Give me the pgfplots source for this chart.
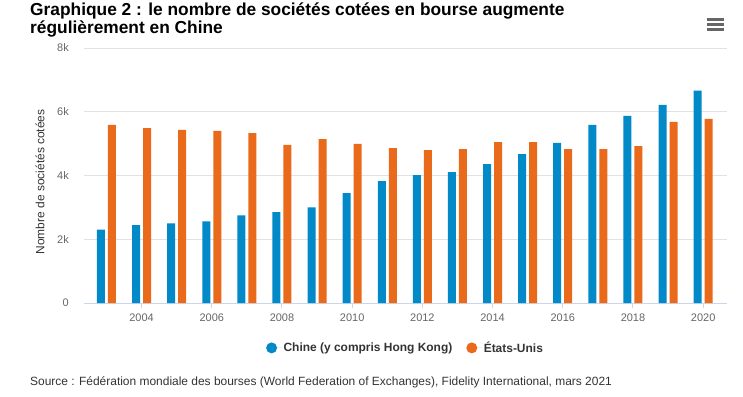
\documentclass[border=0pt]{standalone}
\usepackage{pgfplots}
\pgfplotsset{compat=1.18}
\usepackage{fontspec}
\setmainfont{Liberation Sans}
\definecolor{cblue}{RGB}{2,137,200}
\definecolor{corange}{RGB}{233,106,26}
\definecolor{gridc}{RGB}{226,226,226}
\definecolor{axc}{RGB}{204,214,235}
\definecolor{tickc}{RGB}{102,102,102}
\definecolor{txtc}{RGB}{51,51,51}
\pgfplotstableread{
year china us
2003 2300 5590
2004 2440 5490
2005 2500 5430
2006 2560 5400
2007 2750 5330
2008 2850 4960
2009 3000 5145
2010 3445 4990
2011 3820 4860
2012 4010 4800
2013 4105 4830
2014 4360 5050
2015 4670 5050
2016 5020 4830
2017 5590 4830
2018 5870 4925
2019 6215 5680
2020 6660 5775
}\datatable
\begin{document}
\begin{tikzpicture}
\path (0bp,0bp) rectangle (743bp,-397bp);
\node[anchor=north west, inner sep=0pt, align=left, font=\fontsize{17.4}{18}\selectfont\bfseries, text=black] at (30bp,-3bp) {Graphique 2 : le nombre de sociétés cotées en bourse augmente\\régulièrement en Chine};
\foreach \yy in {19.5,24.5,29.5} {\draw[tickc, line width=2.5bp] (707bp,-\yy bp) -- (724bp,-\yy bp);}
\begin{axis}[
  at={(84bp,-303bp)}, anchor=south west,
  scale only axis, width=643bp, height=255bp,
  xmin=2002.36, xmax=2020.68, ymin=0, ymax=8000,
  ybar, bar width=8bp,
  axis x line*=bottom, axis y line*=left,
  y axis line style={draw=none},
  x axis line style={draw=axc, line width=1bp},
  ymajorgrids, grid style={gridc, line width=0.8bp},
  ytick={0,2000,4000,6000,8000},
  yticklabels={0,2k,4k,6k,8k},
  ytick style={draw=none},
  yticklabel style={font=\fontsize{11}{13}\selectfont, text=tickc, inner sep=0pt, xshift=-10bp},
  xtick={2004,2006,...,2020},
  xticklabels={2004,2006,2008,2010,2012,2014,2016,2018,2020},
  xtick style={draw=axc, line width=1bp},
  tick align=outside, major tick length=5bp,
  xticklabel style={font=\fontsize{11}{13}\selectfont, text=tickc, inner sep=0pt, yshift=-6bp},
  ylabel={Nombre de sociétés cotées},
  every axis y label/.style={at={(rel axis cs:0,0.475)}, rotate=90, anchor=center, yshift=44bp,
     font=\fontsize{12}{14}\selectfont, text=txtc},
  legend style={at={(0.5,-0.176)}, anchor=center, draw=none, fill=none, legend columns=2,
     font=\fontsize{12}{14}\selectfont\bfseries, text=txtc,
     /tikz/every even column/.append style={column sep=12bp}},
  legend image code/.code={\fill[#1] (0bp,0bp) circle (5.5bp); \path (-5.5bp,0bp) -- (10bp,0bp);},
]
\addplot[fill=cblue, draw=none, bar shift=-5.5bp] table[x=year,y=china] {\datatable};
\addplot[fill=corange, draw=none, bar shift=5.5bp] table[x=year,y=us] {\datatable};
\legend{Chine (y compris Hong Kong), États-Unis}
\end{axis}
\node[anchor=west, inner sep=0pt, font=\fontsize{12}{14}\selectfont, text=txtc] at (30bp,-382bp) {Source : Fédération mondiale des bourses (World Federation of Exchanges), Fidelity International, mars 2021};
\end{tikzpicture}
\end{document}
